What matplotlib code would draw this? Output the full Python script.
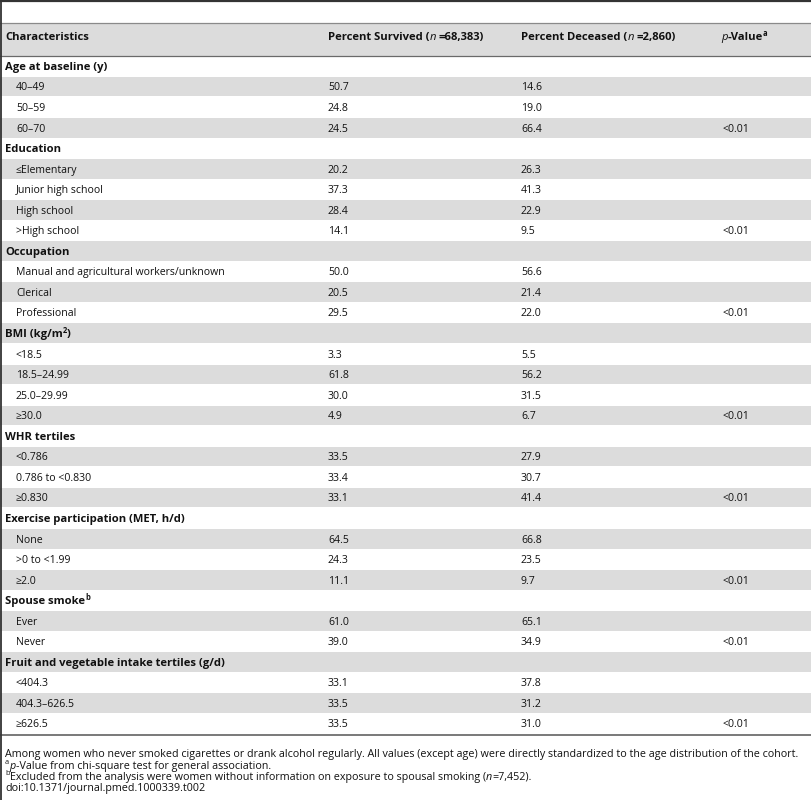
import matplotlib
matplotlib.use('Agg')
import matplotlib.pyplot as plt
from matplotlib.patches import Rectangle

plt.rcParams['font.family'] = ['Open Sans', 'DejaVu Sans']

# table content ('^x' marks a superscript character)
row_labels = ['Age at baseline (y)', '40–49', '50–59', '60–70',
              'Education', '≤Elementary', 'Junior high school', 'High school', '>High school',
              'Occupation', 'Manual and agricultural workers/unknown', 'Clerical', 'Professional',
              'BMI (kg/m^2)', '<18.5', '18.5–24.99', '25.0–29.99', '≥30.0',
              'WHR tertiles', '<0.786', '0.786 to <0.830', '≥0.830',
              'Exercise participation (MET, h/d)', 'None', '>0 to <1.99', '≥2.0',
              'Spouse smoke^b', 'Ever', 'Never',
              'Fruit and vegetable intake tertiles (g/d)', '<404.3', '404.3–626.5', '≥626.5']
survived = [None, 50.7, 24.8, 24.5,
            None, 20.2, 37.3, 28.4, 14.1,
            None, 50.0, 20.5, 29.5,
            None, 3.3, 61.8, 30.0, 4.9,
            None, 33.5, 33.4, 33.1,
            None, 64.5, 24.3, 11.1,
            None, 61.0, 39.0,
            None, 33.1, 33.5, 33.5]
deceased = [None, 14.6, 19.0, 66.4,
            None, 26.3, 41.3, 22.9, 9.5,
            None, 56.6, 21.4, 22.0,
            None, 5.5, 56.2, 31.5, 6.7,
            None, 27.9, 30.7, 41.4,
            None, 66.8, 23.5, 9.7,
            None, 65.1, 34.9,
            None, 37.8, 31.2, 31.0]
p_values = ['', '', '', '<0.01',
            '', '', '', '', '<0.01',
            '', '', '', '<0.01',
            '', '', '', '', '<0.01',
            '', '', '', '<0.01',
            '', '', '', '<0.01',
            '', '', '<0.01',
            '', '', '', '<0.01']
n_survived = '68,383'
n_deceased = '2,860'
n_excluded = '7,452'
footnote_main = ('Among women who never smoked cigarettes or drank alcohol regularly. '
                 'All values (except age) were directly standardized to the age distribution of the cohort.')
footnote_a = '-Value from chi-square test for general association.'
footnote_b = 'Excluded from the analysis were women without information on exposure to spousal smoking ('
doi = 'doi:10.1371/journal.pmed.1000339.t002'

W, H = 812, 800
fig = plt.figure(figsize=(W / 100, H / 100), dpi=100)
ax = fig.add_axes([0, 0, 1, 1])
ax.set_xlim(0, W)
ax.set_ylim(H, 0)
ax.axis('off')
renderer = fig.canvas.get_renderer()

FS = 7.55      # regular table text
FS_B = 8.1     # bold headings
FS_NOTE = 7.75  # footnotes
TXT = '#111111'
GRAY = '#dcdcdc'
col_x = [5, 328, 521, 721]
indent = 16
row_top = 55.8
row_h = 20.55


def draw_runs(x, y, parts, size=FS):
    # parts: (text, kwargs, superscript?)
    for s, kw, sup in parts:
        yy = y - 4.3 if sup else y
        fs = size * 0.68 if sup else size
        t = ax.text(x, yy, s, va='baseline', ha='left', fontsize=fs, color=TXT, **kw)
        x += t.get_window_extent(renderer).width
    return x


def label_parts(label, kw):
    parts = []
    buf = ''
    i = 0
    while i < len(label):
        if label[i] == '^':
            if buf:
                parts.append((buf, kw, False))
                buf = ''
            parts.append((label[i + 1], kw, True))
            i += 2
        else:
            buf += label[i]
            i += 1
    if buf:
        parts.append((buf, kw, False))
    return parts


bold = {'fontweight': 'bold'}
ital = {'fontstyle': 'italic'}

# header
ax.plot([0, W], [0.8, 0.8], color='#333333', lw=1.6, solid_capstyle='butt')
ax.add_patch(Rectangle((0, 22.5), W, row_top - 22.5, color=GRAY, lw=0))
ax.plot([0, W], [22.5, 22.5], color='#8a8a8a', lw=0.9)
ax.plot([0, W], [row_top, row_top], color='#6a6a6a', lw=0.9)
hy = 36 + 3.9
draw_runs(col_x[0], hy, [('Characteristics', bold, False)], FS_B)
x = draw_runs(col_x[1], hy, [('Percent Survived (', bold, False), ('n', ital, False)], FS_B)
draw_runs(x + 2.5, hy, [('=' + n_survived + ')', bold, False)], FS_B)
x = draw_runs(col_x[2], hy, [('Percent Deceased (', bold, False), ('n', ital, False)], FS_B)
draw_runs(x + 2.5, hy, [('=' + n_deceased + ')', bold, False)], FS_B)
draw_runs(col_x[3], hy, [('p', ital, False), ('-Value', bold, False), ('a', bold, True)], FS_B)

# body rows
for i, label in enumerate(row_labels):
    top = row_top + i * row_h
    if i % 2 == 1:
        ax.add_patch(Rectangle((0, top + 0.5), W, row_h - 1, color=GRAY, lw=0))
    yb = top + row_h / 2 + 3.8
    if survived[i] is None:
        draw_runs(col_x[0], yb + 0.2, label_parts(label, bold), FS_B)
    else:
        draw_runs(indent, yb, label_parts(label, {}))
        ax.text(col_x[1], yb, f'{survived[i]:.1f}', va='baseline', fontsize=FS, color=TXT)
        ax.text(col_x[2], yb, f'{deceased[i]:.1f}', va='baseline', fontsize=FS, color=TXT)
    if p_values[i]:
        ax.text(col_x[3] + 2, yb, p_values[i], va='baseline', fontsize=FS, color=TXT)

bottom = row_top + len(row_labels) * row_h
ax.plot([0, W], [bottom + 0.8, bottom + 0.8], color='#555555', lw=1.1)

# footnotes
draw_runs(5, 753 + 3.7, [(footnote_main, {}, False)], FS_NOTE)
x = draw_runs(5, 765 + 3.7, [('a', {}, True)], FS_NOTE)
draw_runs(x + 0.5, 765 + 3.7, [('p', ital, False), (footnote_a, {}, False)], FS_NOTE)
x = draw_runs(5, 776 + 3.7, [('b', {}, True)], FS_NOTE)
draw_runs(x + 0.5, 776 + 3.7, [(footnote_b, {}, False), ('n', ital, False),
                               ('=' + n_excluded + ').', {}, False)], FS_NOTE)
draw_runs(5, 787 + 3.7, [(doi, {}, False)], FS_NOTE)

# left border
ax.plot([0.8, 0.8], [0, H], color='#333333', lw=1.3)

fig.savefig('out.png', dpi=100)
